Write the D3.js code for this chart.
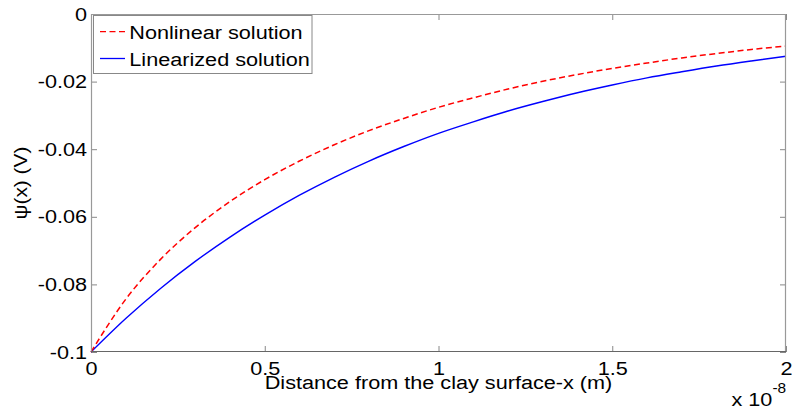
<!DOCTYPE html>
<html>
<head>
<meta charset="utf-8">
<script src="https://cdn.jsdelivr.net/npm/d3@7/dist/d3.min.js"></script>
<style>
  html, body { margin: 0; padding: 0; background: #fff; }
  svg { display: block; }
  text { font-family: "Liberation Sans", Arial, Helvetica, sans-serif; fill: #000; }
</style>
</head>
<body>
<svg id="chart" width="792" height="412"></svg>
<script>
// Distance from the surface, in units of 1e-8 m
const distance = [0, 0.1, 0.2, 0.3, 0.4, 0.5, 0.6, 0.7, 0.8, 0.9, 1.0,
                  1.1, 1.2, 1.3, 1.4, 1.5, 1.6, 1.7, 1.8, 1.9, 2.0];
// Potential psi(x) in volts
const nonlinear = [-0.1000, -0.0844, -0.0726, -0.0632, -0.0555, -0.0490, -0.0435,
                   -0.0387, -0.0345, -0.0309, -0.0276, -0.0248, -0.0222, -0.0199,
                   -0.0179, -0.0161, -0.0145, -0.0130, -0.0117, -0.0105, -0.0095];
const linearized = [-0.1000, -0.0901, -0.0812, -0.0732, -0.0660, -0.0595, -0.0536,
                    -0.0483, -0.0435, -0.0392, -0.0353, -0.0319, -0.0287, -0.0259,
                    -0.0233, -0.0210, -0.0189, -0.0171, -0.0154, -0.0139, -0.0125];
const xTicks = [0, 0.5, 1, 1.5, 2];
const xTickLabels = ["0", "0.5", "1", "1.5", "2"];
const yTicks = [-0.1, -0.08, -0.06, -0.04, -0.02, 0];
const yTickLabels = ["-0.1", "-0.08", "-0.06", "-0.04", "-0.02", "0"];
const seriesNames = ["Nonlinear solution", "Linearized solution"];
const xLabel = "Distance from the clay surface-x (m)";
const yLabel = "\u03C8(x) (V)";
const xExponent = "-8";

const W = 792, H = 412;
const margin = { left: 91, top: 14, right: 6, bottom: 60 };
const fontSize = 19, stretch = 1.14;

const svg = d3.select("#chart");
const x = d3.scaleLinear().domain([0, 2]).range([margin.left, W - margin.right]);
const y = d3.scaleLinear().domain([-0.1, 0]).range([H - margin.bottom, margin.top]);
const x0 = x.range()[0], x1 = x.range()[1], y0 = y.range()[0], y1 = y.range()[1];

function label(g, str, px, py, anchor, size, sx) {
  return g.append("text")
    .attr("transform", `translate(${px},${py}) scale(${sx || stretch},1)`)
    .attr("text-anchor", anchor || "start")
    .style("font-size", (size || fontSize) + "px")
    .text(str);
}

// axes with inward ticks on all four sides
const tickLen = 6;
const gBottom = svg.append("g").attr("transform", `translate(0,${y0})`)
  .call(d3.axisBottom(x).tickValues(xTicks).tickSize(-tickLen).tickPadding(10)
        .tickFormat((d, i) => xTickLabels[i]));
const gTop = svg.append("g").attr("transform", `translate(0,${y1})`)
  .call(d3.axisTop(x).tickValues(xTicks).tickSize(-tickLen).tickFormat(""));
const gLeft = svg.append("g").attr("transform", `translate(${x0},0)`)
  .call(d3.axisLeft(y).tickValues(yTicks).tickSize(-tickLen).tickPadding(4)
        .tickFormat((d, i) => yTickLabels[i]));
const gRight = svg.append("g").attr("transform", `translate(${x1},0)`)
  .call(d3.axisRight(y).tickValues(yTicks).tickSize(-tickLen).tickFormat(""));

[gBottom, gTop, gLeft, gRight].forEach(g => {
  g.attr("font-family", null).attr("font-size", null);
  g.select(".domain").remove();
  g.selectAll(".tick line").attr("stroke", "#888").attr("stroke-width", 1);
  g.selectAll("text").style("font-size", fontSize + "px").attr("fill", "#000");
});
gBottom.selectAll(".tick text").attr("transform", `scale(${stretch},1)`);
gLeft.selectAll(".tick text")
  .attr("x", -4 / stretch)
  .attr("transform", `scale(${stretch},1)`);

// curves
const line = d3.line()
  .x((d, i) => x(distance[i]))
  .y(d => y(d))
  .curve(d3.curveMonotoneX);
svg.append("path").datum(linearized)
  .attr("d", line).attr("fill", "none")
  .attr("stroke", "#0000ff").attr("stroke-width", 1.4);
svg.append("path").datum(nonlinear)
  .attr("d", line).attr("fill", "none")
  .attr("stroke", "#ff0000").attr("stroke-width", 1.5)
  .attr("stroke-dasharray", "6,3.5");

// frame
const frame = svg.append("g").attr("fill", "none").attr("stroke-width", 1.2);
frame.append("line").attr("x1", x0).attr("x2", x1).attr("y1", y1 + 0.5).attr("y2", y1 + 0.5).attr("stroke", "#999");
frame.append("line").attr("x1", x1 - 0.5).attr("x2", x1 - 0.5).attr("y1", y1).attr("y2", y0).attr("stroke", "#999");
frame.append("line").attr("x1", x0 + 0.5).attr("x2", x0 + 0.5).attr("y1", y1).attr("y2", y0).attr("stroke", "#999");
frame.append("line").attr("x1", x0).attr("x2", x1).attr("y1", y0 - 0.5).attr("y2", y0 - 0.5).attr("stroke", "#666");

// axis titles
label(svg, xLabel, (x0 + x1) / 2, 389, "middle");
svg.append("text")
  .attr("transform", `translate(27,${(y0 + y1) / 2}) rotate(-90) scale(1.1,1)`)
  .attr("text-anchor", "middle")
  .style("font-size", fontSize + "px")
  .text(yLabel);

// exponent multiplier for the x axis
label(svg, "x 10", 731.5, 405.5, "start");
label(svg, xExponent, 772.5, 393, "start", 14, 1.1);

// legend
const legend = svg.append("g");
legend.append("rect")
  .attr("x", 93.5).attr("y", 15.5).attr("width", 218.5).attr("height", 58)
  .attr("fill", "#fff").attr("stroke", "#888").attr("stroke-width", 1);
const legendRows = [
  { name: seriesNames[0], color: "#ff0000", dash: "6,3.5", cy: 31.7, base: 38.5 },
  { name: seriesNames[1], color: "#0000ff", dash: null, cy: 58.5, base: 65.7 }
];
legendRows.forEach(r => {
  legend.append("line")
    .attr("x1", 100).attr("x2", 125).attr("y1", r.cy).attr("y2", r.cy)
    .attr("stroke", r.color).attr("stroke-width", 1.3)
    .attr("stroke-dasharray", r.dash);
  label(legend, r.name, 129.3, r.base, "start");
});
</script>
</body>
</html>
